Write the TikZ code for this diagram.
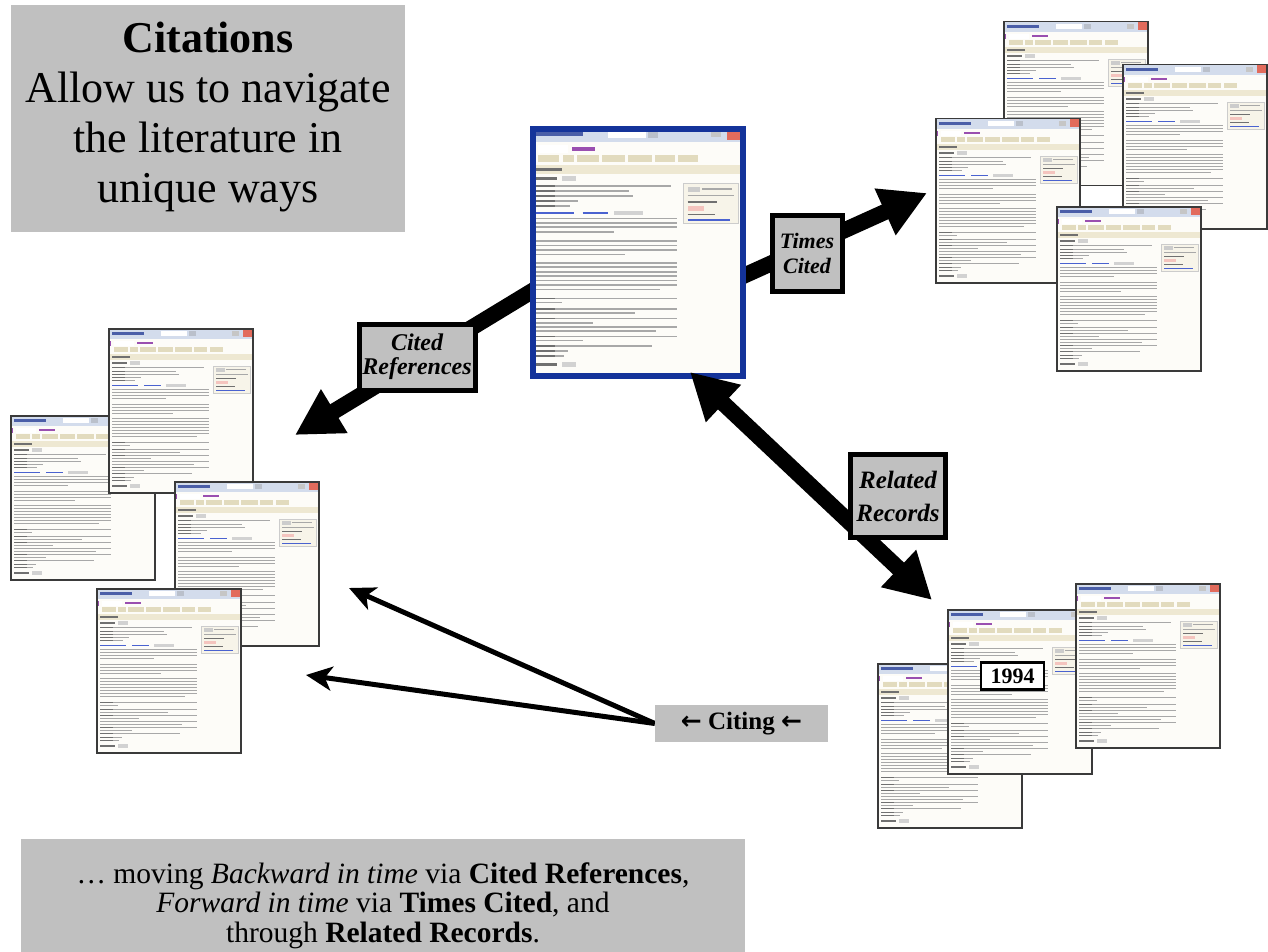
\documentclass[tikz,border=0pt]{standalone}
\usepackage{fontspec}
\setmainfont{Liberation Serif}
\newfontfamily\arrowfont{DejaVu Sans}
\usetikzlibrary{arrows.meta}
\definecolor{boxgray}{HTML}{C0C0C0}
\definecolor{recblue}{HTML}{14339A}
\definecolor{pagebg}{HTML}{FDFCF8}
\definecolor{hdrbg}{HTML}{D3DCEC}
\definecolor{hdrtx}{HTML}{4A5EA8}
\definecolor{bandbg}{HTML}{EEE8D2}
\definecolor{btnbg}{HTML}{E2DBBE}
\definecolor{wospur}{HTML}{9A4FB0}
\definecolor{linkbl}{HTML}{4A62D0}
\definecolor{txtlt}{HTML}{A8A8A8}
\definecolor{txtdk}{HTML}{707070}
\definecolor{closered}{HTML}{E26B5C}
\definecolor{pageedge}{HTML}{3A3A3A}

\newcommand\wokpage[5]{%
  \pgfmathsetmacro\wokxs{#3/100}%
  \pgfmathsetmacro\wokys{#4/100}%
  \begin{scope}[shift={(#1,#2)},xscale=\wokxs,yscale=\wokys]
    \fill[pagebg] (0,0) rectangle (100,100);
    \fill[hdrbg] (0,0) rectangle (100,6.5);
    \fill[hdrtx] (3,2.4) rectangle (25,4.2);
    \fill[white] (37,1.6) rectangle (55,5);
    \fill[hdrbg!70!gray] (56,1.6) rectangle (61,5);
    \fill[gray!45] (86,2) rectangle (91,4.6);
    \fill[closered] (94,0.6) rectangle (100,5.6);
    \fill[wospur] (1,7.8) rectangle (1.8,10.8);
    \fill[white] (4,7.8) rectangle (18,10.8);
    \fill[wospur] (20,8.6) rectangle (31,10);
    \foreach \wa/\wb in {4/14,15.5/21,22.5/33,34.5/45,46.5/58,59.5/69,70.5/80}
      \fill[btnbg] (\wa,11.6) rectangle (\wb,14.4);
    \fill[bandbg] (0,15.6) rectangle (100,19.4);
    \fill[txtdk] (3,16.9) rectangle (15,18.2);
    \fill[txtdk] (3,20.7) rectangle (13,21.9);
    \fill[gray!35] (15,20.3) rectangle (22,22.3);
    \fill[bandbg!50] (73,23) rectangle (99,39.5);
    \draw[gray!40,line width=0.4pt] (73,23) rectangle (99,39.5);
    \fill[gray!40] (75,24.6) rectangle (81,26.6);
    \draw[txtlt,line width=#5] (82,25.6) -- (96,25.6) (75,28.2) -- (97,28.2);
    \draw[txtdk,line width=#5] (75,30.8) -- (89,30.8) (75,35.8) -- (88,35.8);
    \fill[closered!40] (75,32.4) rectangle (83,34.4);
    \draw[linkbl,line width=#5] (75,38) -- (95,38);
    \foreach \wy/\wl in {24.3/67,26.3/47,28.3/49,30.3/23,32.3/19,
        37.4/70,39.2/70,41/70,42.8/40,
        46.6/70,48.4/70,50.2/70,52/45,
        55.4/70,57.2/70,59/70,60.8/70,62.6/70,64.4/70,66.2/62,
        69.8/70,71.5/15,74/70,75.7/50,78/70,79.7/30,81.4/70,83.1/60,
        85.2/70,86.9/25,89/58,91/18,93/16}
      \draw[txtlt,line width=#5] (3,\wy) -- (\wl,\wy);
    \foreach \wy in {24.3,26.3,28.3,30.3,32.3,69.8,74,78,85.2,89,91,93}
      \draw[txtdk,line width=#5] (3,\wy) -- (12,\wy);
    \draw[linkbl,line width=#5] (3,35.2) -- (21,35.2) (25,35.2) -- (37,35.2);
    \fill[gray!35] (40,34.4) rectangle (54,36.2);
    \fill[txtdk] (3,95.8) rectangle (13,97);
    \fill[gray!35] (15,95.4) rectangle (22,97.4);
  \end{scope}}

\newcommand\thumbpage[3]{%
  \wokpage{#1}{#2}{144}{164}{1pt}%
  \node[pagebox] (#3) at (#1,#2) {};}

\tikzset{
  pagebox/.style={draw=pageedge, line width=1.5pt, minimum width=144pt,
    minimum height=164pt, inner sep=0pt, anchor=north west},
  bigarrow/.style={line width=16pt, -{Triangle[length=46pt,width=48pt]}},
  bigdouble/.style={line width=16pt,
    {Triangle[length=46pt,width=48pt]}-{Triangle[length=46pt,width=48pt]}},
  thinarrow/.style={line width=5pt, -{Stealth[length=26pt,width=24pt,inset=7pt]}},
  lbl/.style={draw=black, line width=5pt, fill=boxgray, inner sep=0pt,
    align=center, font=\bfseries\itshape\fontsize{24}{24}\selectfont},
  graybox/.style={fill=boxgray, inner sep=0pt},
  bigtxt/.style={anchor=base, inner sep=0pt, font=\fontsize{44}{50}\selectfont},
  btmtxt/.style={anchor=base, inner sep=0pt, font=\fontsize{29.5}{32}\selectfont},
}

\begin{document}
\begin{tikzpicture}[x=1pt,y=-1pt]
\useasboundingbox (0,0) rectangle (1268,952);
\fill[white] (0,0) rectangle (1268,952);

% top-left title box
\node[graybox, minimum width=394pt, minimum height=227pt, anchor=north west] (tlbox) at (11,5) {};
\node[bigtxt, font=\bfseries\fontsize{44}{50}\selectfont] (tl1) at (208,53) {Citations};
\node[bigtxt] (tl2) at (208,103) {Allow us to navigate};
\node[bigtxt] (tl3) at (208,153) {the literature in};
\node[bigtxt] (tl4) at (208,202) {unique ways};

% thumbnail clusters
\thumbpage{1003}{21}{pA}
\thumbpage{1122}{64}{pB}
\thumbpage{935}{118}{pC}
\thumbpage{1056}{206}{pD}

\thumbpage{10}{415}{pE}
\thumbpage{108}{328}{pF}
\thumbpage{174}{481}{pG}
\thumbpage{96}{588}{pH}

\thumbpage{877}{663}{pI}
\thumbpage{947}{609}{pJ}
\thumbpage{1075}{583}{pK}

% big arrows behind the central record
\coordinate (tcTail) at (690,300);
\coordinate (tcTip) at (927,193);
\coordinate (crTail) at (580,262);
\coordinate (crTip) at (295,435);
\draw[bigarrow] (tcTail) -- (tcTip);
\draw[bigarrow] (crTail) -- (crTip);

% central record
\wokpage{530}{126}{210}{247}{1.6pt}
\node[draw=recblue, line width=6pt, minimum width=210pt, minimum height=247pt,
  inner sep=0pt, anchor=north west] (rec) at (530,126) {};

% related records double arrow
\coordinate (rrTop) at (690,372);
\coordinate (rrBot) at (932,600);
\draw[bigdouble] (rrTop) -- (rrBot);

% citing arrows
\coordinate (ctU) at (349,588);
\coordinate (ctL) at (306,675);
\node[graybox, minimum width=173pt, minimum height=37pt] (ctg) at (741.5,723.5) {};
\draw[thinarrow] (ctg.west) -- (ctU);
\draw[thinarrow] (ctg.west) -- (ctL);
\node[graybox, minimum width=173pt, minimum height=37pt,
  font=\bfseries\fontsize{25}{25}\selectfont] (ctgtext) at (741.5,723.5)
  {{\arrowfont\bfseries ←} Citing {\arrowfont\bfseries ←}};

% labels
\node[lbl, minimum width=70pt, minimum height=76pt, font=\bfseries\itshape\fontsize{22}{25}\selectfont] (tclbl) at (807,253) {Times\\Cited};
\node[lbl, minimum width=116pt, minimum height=66pt] (crlbl) at (417,357) {Cited\\References};
\node[lbl, minimum width=95pt, minimum height=83pt, font=\bfseries\itshape\fontsize{25}{33}\selectfont] (rrlbl) at (898,496) {Related\\Records};

% year tag
\node[draw=black, line width=2.5pt, fill=white, minimum width=63pt, minimum height=27pt,
  inner sep=0pt, font=\bfseries\fontsize{22}{22}\selectfont] (yr) at (1012.5,676) {1994};

% bottom box
\node[graybox, minimum width=724pt, minimum height=113pt, anchor=north west] (bbox) at (21,839) {};
\node[btmtxt] (b1) at (383,883) {… moving \textit{Backward in time} via \textbf{Cited References},};
\node[btmtxt] (b2) at (383,912) {\textit{Forward in time} via \textbf{Times Cited}, and};
\node[btmtxt] (b3) at (383,942) {through \textbf{Related Records}.};
\end{tikzpicture}
\end{document}
